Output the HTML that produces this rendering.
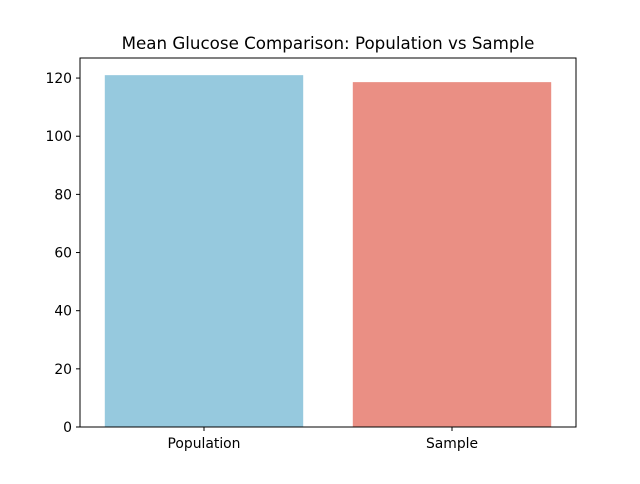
<!DOCTYPE html>
<html><head><meta charset="utf-8"><style>
body{margin:0;background:#fff;font-family:"DejaVu Sans","Liberation Sans",sans-serif;}
text{font-family:"DejaVu Sans","Liberation Sans",sans-serif;}
</style></head><body>
<svg id="chart" width="640" height="480" xmlns="http://www.w3.org/2000/svg">
<rect width="640" height="480" fill="#fff"/>
<text x="328" y="49" text-anchor="middle" font-size="16.7" fill="#000">Mean Glucose Comparison: Population vs Sample</text>
<g id="bars"></g>
<g id="yaxis"></g>
<g id="xaxis"></g>
<rect x="80" y="58" width="496" height="369" fill="none" stroke="#000" stroke-width="1"/>
</svg>
<script>
const categories = ["Population", "Sample"];
const values = [121.0, 118.6];
const yTicks = [0, 20, 40, 60, 80, 100, 120];
const colors = ["#96c9de", "#ea8f84"];
const L=80,R=576,T=58,B=427,yMax=126.9;
const ns="http://www.w3.org/2000/svg";
const y=v=>B-(v/yMax)*(B-T);
const xu=(R-L)/categories.length;
const x=i=>L+(i+0.5)*xu;
const bars=document.getElementById('bars'),ya=document.getElementById('yaxis'),xa=document.getElementById('xaxis');
function mk(t,a){const e=document.createElementNS(ns,t);for(const k in a)e.setAttribute(k,a[k]);return e;}
values.forEach((v,i)=>{
  const w=0.8*xu;
  const r=mk('rect',{x:x(i)-w/2,y:y(v),width:w,height:B-y(v),fill:colors[i]});
  
  
  bars.appendChild(r);
  const tk=mk('line',{x1:x(i),x2:x(i),y1:B,y2:B+4,stroke:'#000'});
  
  
  xa.appendChild(tk);
  const t=mk('text',{x:x(i),y:B+21,'text-anchor':'middle','font-size':13.9});
  t.textContent=categories[i];
  
  
  xa.appendChild(t);
});
yTicks.forEach(v=>{
  const tk=mk('line',{x1:L-4,x2:L,y1:y(v),y2:y(v),stroke:'#000'});
  
  
  ya.appendChild(tk);
  const t=mk('text',{x:L-8,y:y(v)+5,'text-anchor':'end','font-size':13.9});
  t.textContent=v;
  
  
  ya.appendChild(t);
});
</script>
</body></html>
